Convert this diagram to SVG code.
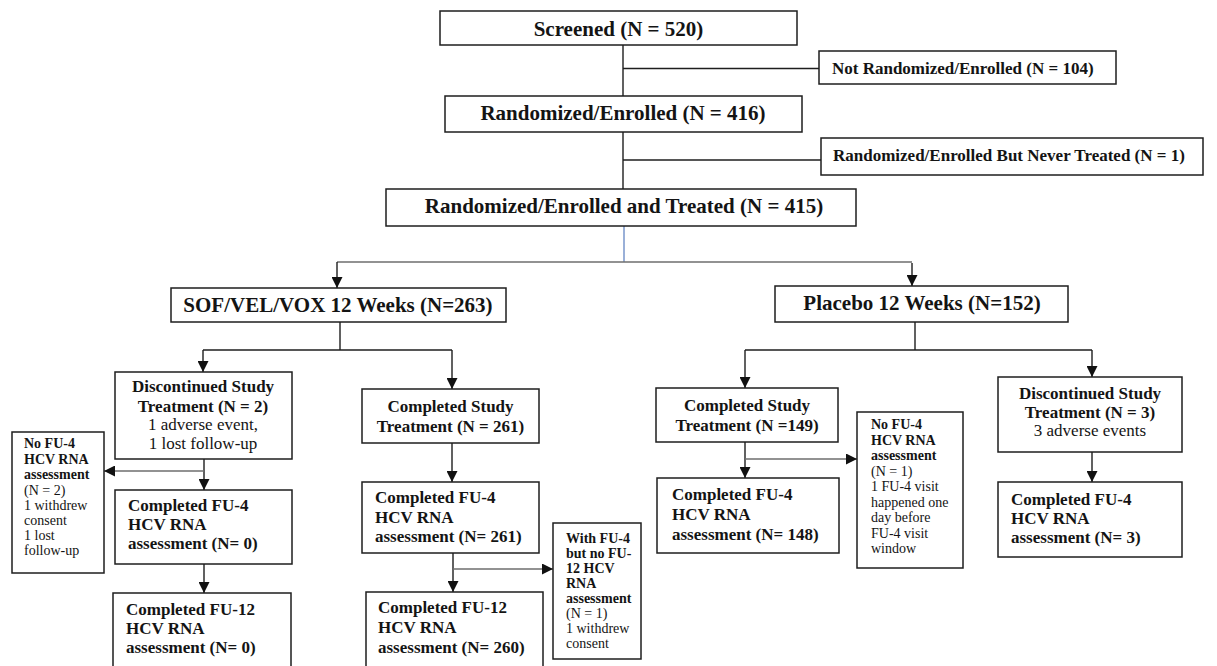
<svg xmlns="http://www.w3.org/2000/svg" width="1217" height="666" viewBox="0 0 1217 666">
  <style>
    .box { fill: #ffffff; stroke: #1e1e1e; stroke-width: 1.5; }
    .t { font-family: "Liberation Serif", "Times New Roman", serif; fill: #141414; }
    .h1 { font-size: 21px; font-weight: bold; text-anchor: middle; }
    .h2 { font-size: 17px; font-weight: bold; }
    .r2 { font-size: 17px; }
    .c { text-anchor: middle; }
    .h3 { font-size: 14px; font-weight: bold; }
    .r3 { font-size: 14px; }
    .ln { fill: none; stroke: #1e1e1e; stroke-width: 1.4; }
    .gray { stroke: #6e6e6e; stroke-width: 1.6; }
    .blue { stroke: #6f8fc8; stroke-width: 1.4; }
  </style>
  <defs>
    <marker id="arrow" markerUnits="userSpaceOnUse" markerWidth="11" markerHeight="11" viewBox="0 0 10 10" refX="10" refY="5" orient="auto">
      <path d="M0,0 L10,5 L0,10 z" fill="#111111"/>
    </marker>
  </defs>
  <rect width="1217" height="666" fill="#ffffff"/>

  <!-- connectors -->
  <g id="connectors">
    <path class="ln" d="M623,45 V96"/>
    <path class="ln" d="M623,68.5 H819"/>
    <path class="ln" d="M623,132 V189"/>
    <path class="ln" d="M623,160 H821"/>
    <path class="ln blue" d="M624,226 V262"/>
    <path class="ln gray" d="M337,262 H912"/>
    <path class="ln" d="M337,262 V288" marker-end="url(#arrow)"/>
    <path class="ln" d="M912,263 V286" marker-end="url(#arrow)"/>

    <path class="ln" d="M340,322 V350"/>
    <path class="ln" d="M203,350 H452"/>
    <path class="ln" d="M203,350 V372" marker-end="url(#arrow)"/>
    <path class="ln" d="M452,350 V389" marker-end="url(#arrow)"/>

    <path class="ln" d="M915,322 V350"/>
    <path class="ln" d="M745,350 H1092"/>
    <path class="ln" d="M745,350 V388" marker-end="url(#arrow)"/>
    <path class="ln" d="M1092,350 V377" marker-end="url(#arrow)"/>

    <path class="ln" d="M204,459 V490" marker-end="url(#arrow)"/>
    <path class="ln gray" d="M204,471 H104" marker-end="url(#arrow)"/>
    <path class="ln" d="M204,564 V593" marker-end="url(#arrow)"/>

    <path class="ln" d="M452,443 V482" marker-end="url(#arrow)"/>
    <path class="ln" d="M453,553 V592" marker-end="url(#arrow)"/>
    <path class="ln gray" d="M453,569 H553" marker-end="url(#arrow)"/>

    <path class="ln" d="M745,442 V478" marker-end="url(#arrow)"/>
    <path class="ln gray" d="M745,459 H857" marker-end="url(#arrow)"/>

    <path class="ln" d="M1092,452 V482" marker-end="url(#arrow)"/>
  </g>

  <g id="screened">
    <rect class="box" x="440" y="11" width="357" height="34"/>
    <text class="t h1" x="618.5" y="36">Screened (N = 520)</text>
  </g>

  <g id="not-randomized">
    <rect class="box" x="819" y="51" width="297" height="33"/>
    <text class="t h2" x="832" y="74">Not Randomized/Enrolled (N = 104)</text>
  </g>

  <g id="randomized">
    <rect class="box" x="445" y="96" width="357" height="36"/>
    <text class="t h1" x="623" y="120">Randomized/Enrolled (N = 416)</text>
  </g>

  <g id="never-treated">
    <rect class="box" x="821" y="138" width="382" height="37"/>
    <text class="t h2" x="833" y="161">Randomized/Enrolled But Never Treated (N = 1)</text>
  </g>

  <g id="treated">
    <rect class="box" x="386" y="189" width="470" height="37"/>
    <text class="t h1" x="624" y="213">Randomized/Enrolled and Treated (N = 415)</text>
  </g>

  <g id="arm-sof">
    <rect class="box" x="171" y="288" width="335" height="34"/>
    <text class="t h1" x="338" y="312">SOF/VEL/VOX 12 Weeks (N=263)</text>
  </g>

  <g id="arm-placebo">
    <rect class="box" x="775" y="286" width="293" height="36"/>
    <text class="t h1" x="922" y="310">Placebo 12 Weeks (N=152)</text>
  </g>

  <g id="sof-discontinued">
    <rect class="box" x="115" y="372" width="177" height="87"/>
    <text class="t h2 c" x="203" y="392">Discontinued Study</text>
    <text class="t h2 c" x="203" y="412">Treatment (N = 2)</text>
    <text class="t r2 c" x="203" y="430">1 adverse event,</text>
    <text class="t r2 c" x="203" y="449">1 lost follow-up</text>
  </g>

  <g id="sof-no-fu4">
    <rect class="box" x="12" y="432" width="92" height="141"/>
    <text class="t h3" x="24" y="448">No FU-4</text>
    <text class="t h3" x="24" y="464">HCV RNA</text>
    <text class="t h3" x="24" y="479">assessment</text>
    <text class="t r3" x="24" y="495">(N = 2)</text>
    <text class="t r3" x="24" y="510">1 withdrew</text>
    <text class="t r3" x="24" y="525">consent</text>
    <text class="t r3" x="24" y="540">1 lost</text>
    <text class="t r3" x="24" y="555">follow-up</text>
  </g>

  <g id="sof-disc-fu4">
    <rect class="box" x="115" y="490" width="177" height="74"/>
    <text class="t h2" x="128" y="511">Completed FU-4</text>
    <text class="t h2" x="128" y="530">HCV RNA</text>
    <text class="t h2" x="128" y="549">assessment (N= 0)</text>
  </g>

  <g id="sof-disc-fu12">
    <rect class="box" x="113" y="593" width="178" height="80"/>
    <text class="t h2" x="126" y="615">Completed FU-12</text>
    <text class="t h2" x="126" y="634">HCV RNA</text>
    <text class="t h2" x="126" y="653">assessment (N= 0)</text>
  </g>

  <g id="sof-completed">
    <rect class="box" x="362" y="389" width="177" height="54"/>
    <text class="t h2 c" x="450.5" y="412">Completed Study</text>
    <text class="t h2 c" x="450.5" y="432">Treatment (N = 261)</text>
  </g>

  <g id="sof-fu4">
    <rect class="box" x="362" y="482" width="177" height="71"/>
    <text class="t h2" x="375" y="503">Completed FU-4</text>
    <text class="t h2" x="375" y="523">HCV RNA</text>
    <text class="t h2" x="375" y="542">assessment (N= 261)</text>
  </g>

  <g id="sof-no-fu12">
    <rect class="box" x="553" y="523" width="88" height="136"/>
    <text class="t h3" x="566" y="543">With FU-4</text>
    <text class="t h3" x="566" y="558">but no FU-</text>
    <text class="t h3" x="566" y="573">12 HCV</text>
    <text class="t h3" x="566" y="588">RNA</text>
    <text class="t h3" x="566" y="603">assessment</text>
    <text class="t r3" x="566" y="618">(N = 1)</text>
    <text class="t r3" x="566" y="633">1 withdrew</text>
    <text class="t r3" x="566" y="648">consent</text>
  </g>

  <g id="sof-fu12">
    <rect class="box" x="366" y="592" width="177" height="80"/>
    <text class="t h2" x="378" y="613">Completed FU-12</text>
    <text class="t h2" x="378" y="633">HCV RNA</text>
    <text class="t h2" x="378" y="653">assessment (N= 260)</text>
  </g>

  <g id="pbo-completed">
    <rect class="box" x="656" y="388" width="182" height="54"/>
    <text class="t h2 c" x="747" y="411">Completed Study</text>
    <text class="t h2 c" x="747" y="431">Treatment (N =149)</text>
  </g>

  <g id="pbo-no-fu4">
    <rect class="box" x="857" y="412" width="106" height="156"/>
    <text class="t h3" x="871" y="429">No FU-4</text>
    <text class="t h3" x="871" y="444.5">HCV RNA</text>
    <text class="t h3" x="871" y="460">assessment</text>
    <text class="t r3" x="871" y="475.5">(N = 1)</text>
    <text class="t r3" x="871" y="491">1 FU-4 visit</text>
    <text class="t r3" x="871" y="506.5">happened one</text>
    <text class="t r3" x="871" y="522">day before</text>
    <text class="t r3" x="871" y="537.5">FU-4 visit</text>
    <text class="t r3" x="871" y="553">window</text>
  </g>

  <g id="pbo-fu4">
    <rect class="box" x="657" y="478" width="182" height="75"/>
    <text class="t h2" x="672" y="500">Completed FU-4</text>
    <text class="t h2" x="672" y="520">HCV RNA</text>
    <text class="t h2" x="672" y="540">assessment (N= 148)</text>
  </g>

  <g id="pbo-discontinued">
    <rect class="box" x="998" y="377" width="184" height="75"/>
    <text class="t h2 c" x="1090" y="399">Discontinued Study</text>
    <text class="t h2 c" x="1090" y="418">Treatment (N = 3)</text>
    <text class="t r2 c" x="1090" y="436">3 adverse events</text>
  </g>

  <g id="pbo-disc-fu4">
    <rect class="box" x="998" y="482" width="184" height="75"/>
    <text class="t h2" x="1011" y="505">Completed FU-4</text>
    <text class="t h2" x="1011" y="524">HCV RNA</text>
    <text class="t h2" x="1011" y="543">assessment (N= 3)</text>
  </g>
</svg>
